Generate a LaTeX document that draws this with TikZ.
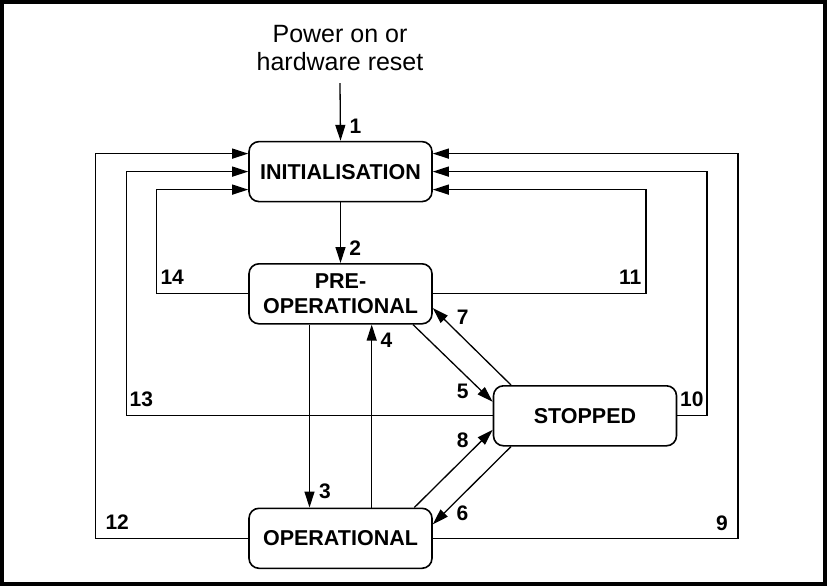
\documentclass[tikz,border=0pt]{standalone}
\usepackage{fontspec}
\setmainfont{Liberation Sans}
\usetikzlibrary{arrows.meta}
\begin{document}
\begin{tikzpicture}[x=1pt,y=-1pt,
  state/.style={draw, line width=1.6pt, rounded corners=10pt, minimum width=183pt, minimum height=60pt, inner sep=0pt, fill=white, font=\fontsize{21.5}{25.5}\selectfont\bfseries, align=center},
  conn/.style={line width=1.3pt, -{Triangle[length=16pt,width=10pt]}},
  num/.style={font=\fontsize{21}{21}\selectfont\bfseries, inner sep=0pt},
  txt/.style={font=\fontsize{25}{28}\selectfont, inner sep=0pt, align=center}]
\useasboundingbox (0,0) rectangle (827,586);
\draw[line width=4pt] (2,2) rectangle (825,584);

\node[state] (init) at (340.5,171.6) {INITIALISATION};
\node[state] (pre) at (340.5,293.8) {PRE-\\OPERATIONAL};
\node[state] (oper) at (340.5,538.3) {OPERATIONAL};
\node[state] (stop) at (585,415.8) {STOPPED};

\node[txt] (power) at (340,47.8) {Power on or\\hardware reset};

% 1, 2, 3, 4
\draw[conn] ([yshift=-12.3pt]power.south) -- (init.north);
\draw[conn] (init.south) -- (pre.north);
\draw[conn] ([xshift=-31pt]pre.south) -- ([xshift=-31pt]oper.north);
\draw[conn] ([xshift=31.2pt]oper.north) -- ([xshift=31.2pt]pre.south);
% 5, 7, 8, 6
\draw[conn] ([xshift=72.5pt]pre.south) -- ([yshift=14pt]stop.west);
\draw[conn] ([xshift=-74pt]stop.north) -- ([yshift=-14.3pt]pre.east);
\draw[conn] ([xshift=73.8pt]oper.north) -- ([yshift=-14pt]stop.west);
\draw[conn] ([xshift=-74pt]stop.south) -- ([yshift=14pt]oper.east);
% loops back to initialisation
\draw[conn] (pre.west) -- ++(-91.6,0) |- ([yshift=-18pt]init.west);
\draw[conn] (stop.west) -- ++(-366.1,0) |- (init.west);
\draw[conn] (oper.west) -- ++(-152.6,0) |- ([yshift=18pt]init.west);
\draw[conn] (pre.east) -- ++(213.3,0) |- ([yshift=-18pt]init.east);
\draw[conn] (stop.east) -- ++(29.8,0) |- (init.east);
\draw[conn] (oper.east) -- ++(305.3,0) |- ([yshift=18pt]init.east);

% labels
\node[num] (n1) at (355.5,126.3) {1};
\node[num] (n2) at (355.3,248.3) {2};
\node[num] (n3) at (325,491.7) {3};
\node[num] (n4) at (386.5,340.3) {4};
\node[num] (n5) at (462.8,391.3) {5};
\node[num] (n6) at (462.5,513) {6};
\node[num] (n7) at (462.8,317.5) {7};
\node[num] (n8) at (462.8,440.3) {8};
\node[num] (n9) at (722,522.8) {9};
\node[num] (n10) at (691.8,399.5) {10};
\node[num] (n11) at (630.3,277.2) {11};
\node[num] (n12) at (117.2,522.5) {12};
\node[num] (n13) at (141.3,399.5) {13};
\node[num] (n14) at (172.2,277.5) {14};
\end{tikzpicture}
\end{document}
